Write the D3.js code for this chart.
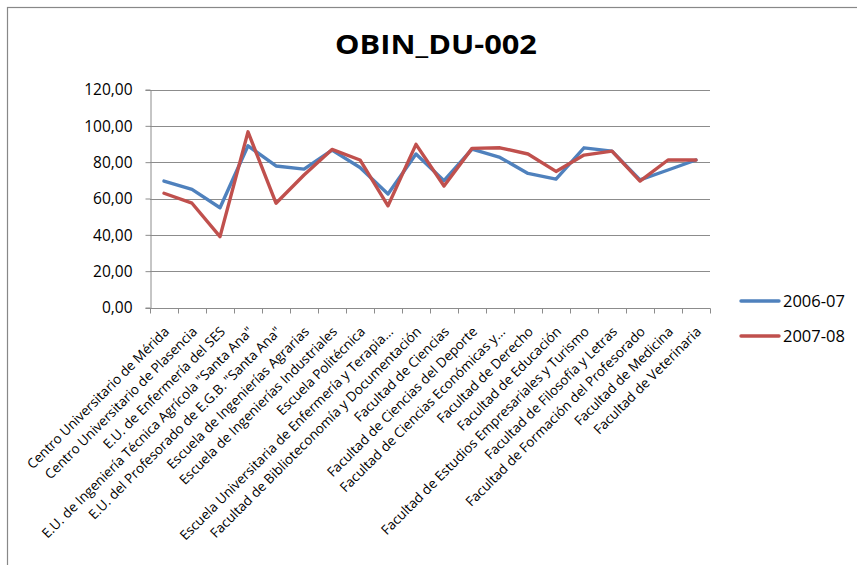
<!DOCTYPE html>
<html>
<head>
<meta charset="utf-8">
<script src="https://cdn.jsdelivr.net/npm/d3@7"></script>
<style>
  html, body { margin: 0; padding: 0; background: #fff; }
  svg { display: block; }
  text { font-family: "Open Sans", "Noto Sans", sans-serif; fill: #000; }
</style>
</head>
<body>
<svg id="chart" width="857" height="565"></svg>
<script>
// Centros de la Universidad de Extremadura
const categories = [
  "Centro Universitario de Mérida",
  "Centro Universitario de Plasencia",
  "E.U. de Enfermería del SES",
  "E.U. de Ingeniería Técnica Agrícola \"Santa Ana\"",
  "E.U. del Profesorado de E.G.B. \"Santa Ana\"",
  "Escuela de Ingenierías Agrarias",
  "Escuela de Ingenierías Industriales",
  "Escuela Politécnica",
  "Escuela Universitaria de Enfermería y Terapia...",
  "Facultad de Biblioteconomía y Documentación",
  "Facultad de Ciencias",
  "Facultad de Ciencias del Deporte",
  "Facultad de Ciencias Económicas y...",
  "Facultad de Derecho",
  "Facultad de Educación",
  "Facultad de Estudios Empresariales y Turismo",
  "Facultad de Filosofía y Letras",
  "Facultad de Formación del Profesorado",
  "Facultad de Medicina",
  "Facultad de Veterinaria"
];
const values2006 = [69.6, 65.0, 54.9, 89.0, 77.9, 76.2, 86.6, 77.1, 62.5, 84.5,
                    69.8, 87.2, 82.6, 73.8, 70.7, 87.9, 86.1, 70.2, 75.7, 81.2];
const values2007 = [62.9, 57.4, 39.0, 96.7, 57.4, 72.9, 87.0, 81.2, 56.0, 89.8,
                    66.9, 87.6, 87.9, 84.5, 74.9, 83.9, 86.1, 69.6, 81.2, 81.2];
const seriesNames = ["2006-07", "2007-08"];
const seriesColors = ["#4F81BD", "#C0504D"];
const yTicks = [0, 20, 40, 60, 80, 100, 120];

const svg = d3.select("#chart");
const gridColor = "#8c8c8c";

// outer chart border
svg.append("rect")
  .attr("x", 7.5).attr("y", 7.5)
  .attr("width", 870).attr("height", 580)
  .attr("fill", "none").attr("stroke", "#888").attr("stroke-width", 1.2);

const plot = { left: 150, right: 710, top: 89.5, bottom: 307.5 };

const x = d3.scaleBand().domain(categories).range([plot.left, plot.right]);
const y = d3.scaleLinear().domain([0, 120]).range([plot.bottom, plot.top]);

// title
svg.append("text")
  .attr("x", 436).attr("y", 54)
  .attr("text-anchor", "middle")
  .attr("textLength", 202).attr("lengthAdjust", "spacingAndGlyphs")
  .style("font-size", "26px").style("font-weight", "bold")
  .text("OBIN_DU-002");

// horizontal grid lines
svg.append("g")
  .selectAll("line")
  .data(yTicks.filter(d => d > 0))
  .join("line")
  .attr("x1", plot.left).attr("x2", plot.right)
  .attr("y1", d => Math.round(y(d)) + 0.5).attr("y2", d => Math.round(y(d)) + 0.5)
  .attr("stroke", gridColor).attr("stroke-width", 1);

// y axis
const fmt = d => d3.format(".2f")(d).replace(".", ",");
const yAxis = svg.append("g")
  .attr("transform", `translate(${plot.left + 0.5},0.5)`)
  .call(d3.axisLeft(y).tickValues(yTicks).tickFormat(fmt).tickSize(5).tickPadding(13));
yAxis.select(".domain").attr("stroke", gridColor);
yAxis.selectAll(".tick line").attr("stroke", gridColor).attr("transform", "translate(0,-0.5)");
yAxis.selectAll(".tick text")
  .style("font-size", "15.5px").style("font-family", "'Open Sans', sans-serif").attr("fill", "#000");

// x axis with ticks on category boundaries
const xAxisG = svg.append("g").attr("transform", `translate(0.5,${Math.round(plot.bottom) + 0.5})`);
xAxisG.append("line")
  .attr("x1", plot.left).attr("x2", plot.right)
  .attr("stroke", gridColor);
const boundaries = categories.map(c => x(c)).concat([plot.right]);
xAxisG.selectAll("line.tick")
  .data(boundaries)
  .join("line")
  .attr("class", "tick")
  .attr("x1", d => Math.round(d)).attr("x2", d => Math.round(d))
  .attr("y1", 0).attr("y2", 5)
  .attr("stroke", gridColor);

// rotated category labels
svg.append("g")
  .selectAll("text")
  .data(categories)
  .join("text")
  .attr("transform", d => `translate(${x(d) + x.bandwidth() / 2 + 6},${plot.bottom + 25}) rotate(-45)`)
  .attr("text-anchor", "end")
  .style("font-size", "13.5px")
  .text(d => d);

// series lines
const line = d3.line()
  .x((d, i) => x(categories[i]) + x.bandwidth() / 2)
  .y(d => y(d));

[values2006, values2007].forEach((vals, k) => {
  svg.append("path")
    .datum(vals)
    .attr("d", line)
    .attr("fill", "none")
    .attr("stroke", seriesColors[k])
    .attr("stroke-width", 3.4)
    .attr("stroke-linejoin", "round")
    .attr("stroke-linecap", "round");
});

// legend
const legend = svg.append("g");
seriesNames.forEach((name, k) => {
  const ly = 301 + k * 35;
  legend.append("line")
    .attr("x1", 741).attr("x2", 779)
    .attr("y1", ly).attr("y2", ly)
    .attr("stroke", seriesColors[k]).attr("stroke-width", 3.4)
    .attr("stroke-linecap", "round");
  legend.append("text")
    .attr("x", 783).attr("y", ly + 6)
    .style("font-size", "16.5px")
    .text(name);
});
</script>
</body>
</html>
